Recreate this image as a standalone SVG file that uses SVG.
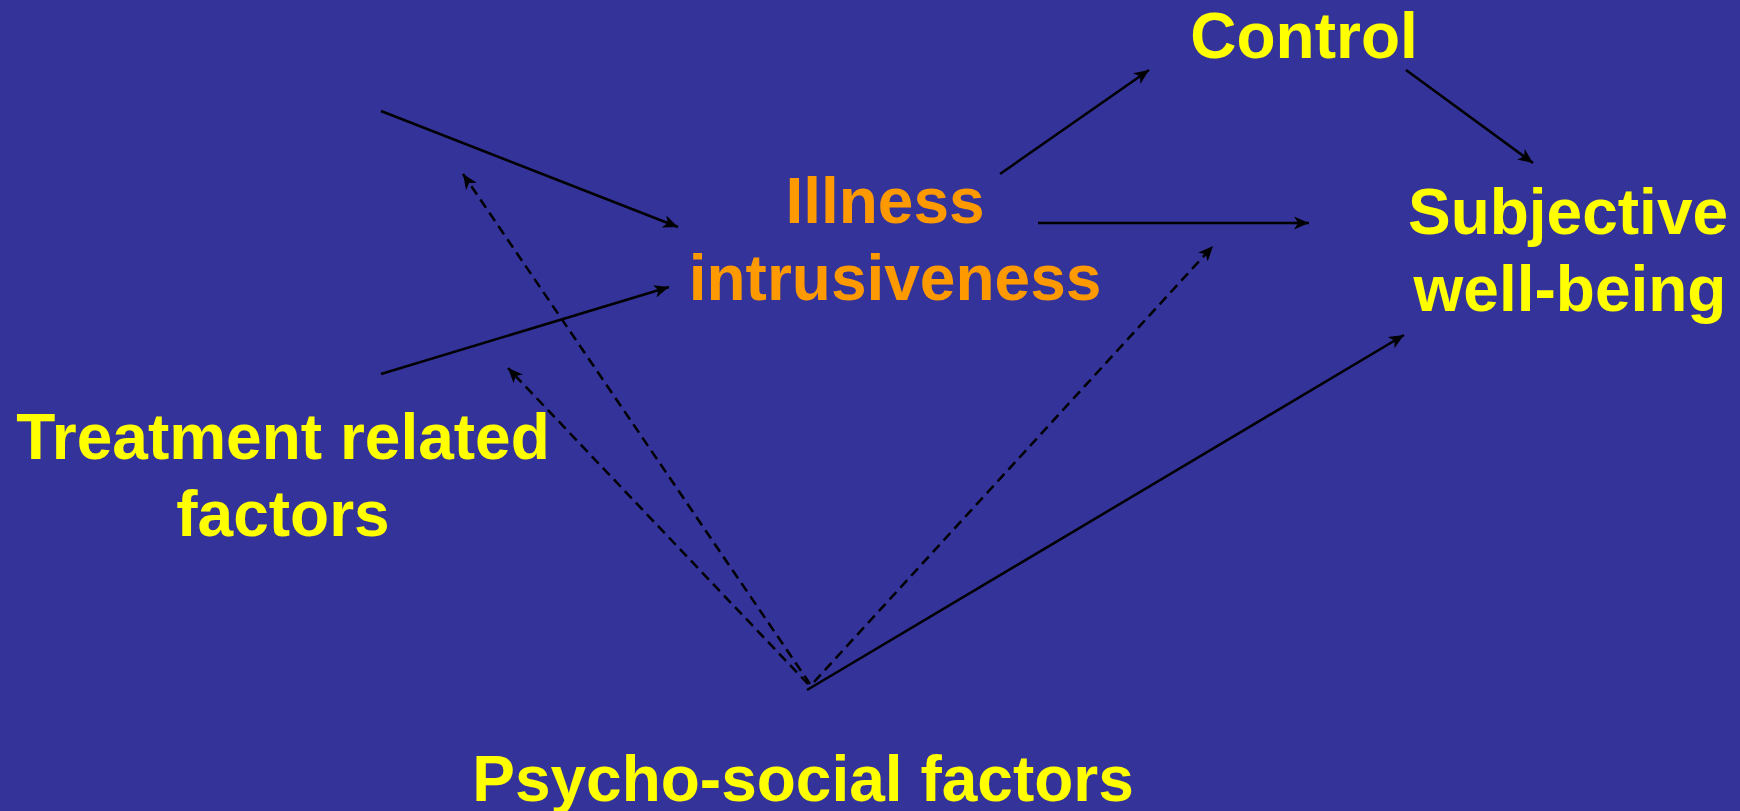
<svg xmlns="http://www.w3.org/2000/svg" width="1740" height="811" viewBox="0 0 1740 811">
<defs>
<style>
.lbl{font-family:"Liberation Sans",Arial,sans-serif;font-weight:bold;font-size:64px;text-anchor:middle}
.y{fill:#FFFF00}
.o{fill:#FF9900}
.c{stroke:#000;stroke-width:2.5;fill:none;marker-end:url(#ah)}
.d{stroke-dasharray:10 6}
</style>
<marker id="ah" markerUnits="userSpaceOnUse" markerWidth="20" markerHeight="16" viewBox="0 -8 20 16" refX="15" refY="0" orient="auto">
<path d="M0,-6.5 L15,0 L0,6.5 L4,0 z" fill="#000"/>
</marker>
</defs>
<rect width="1740" height="811" fill="#333399"/>
<g id="connectors">
<line class="c" x1="381" y1="111" x2="678" y2="227"/>
<line class="c" x1="381" y1="374" x2="669" y2="287"/>
<line class="c" x1="1000" y1="174" x2="1149" y2="70"/>
<line class="c" x1="1406" y1="70" x2="1533" y2="163"/>
<line class="c" x1="1038" y1="223" x2="1309" y2="223"/>
<line class="c d" x1="810" y1="684" x2="463" y2="174"/>
<line class="c d" x1="808" y1="684" x2="508" y2="368"/>
<line class="c d" x1="814" y1="682" x2="1213" y2="246"/>
<line class="c" x1="807" y1="690" x2="1404" y2="335"/>
</g>
<g id="control"><text class="lbl y" x="1304" y="58">Control</text></g>
<g id="illness"><text class="lbl o" x="885" y="223">Illness</text><text class="lbl o" x="895" y="300">intrusiveness</text></g>
<g id="swb"><text class="lbl y" x="1568" y="234">Subjective</text><text class="lbl y" x="1570" y="311">well-being</text></g>
<g id="treatment"><text class="lbl y" x="283" y="459">Treatment related</text><text class="lbl y" x="283" y="536">factors</text></g>
<g id="psycho"><text class="lbl y" x="803" y="801">Psycho-social factors</text></g>
</svg>
